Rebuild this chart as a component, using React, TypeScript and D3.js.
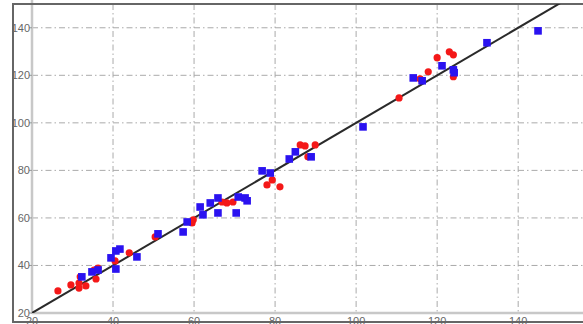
import React from 'react'
import * as d3 from 'd3'

// observed vs predicted, two groups
const redX = [26.4, 29.6, 31.9, 31.6, 31.6, 33.3, 35.3, 35.8, 36.3, 40.5, 44.0, 50.4, 59.5, 59.8, 66.9, 68.1, 69.6, 78.0, 79.3, 81.2, 86.2, 87.4, 88.1, 89.9, 110.6, 115.8, 117.8, 120.0, 123.0, 124.0, 124.0]
const redY = [29.3, 31.8, 35.2, 30.5, 32.6, 31.4, 38.1, 34.3, 38.9, 41.9, 45.3, 52.0, 57.9, 59.2, 66.7, 66.3, 66.7, 73.9, 76.0, 73.1, 90.7, 90.3, 85.7, 90.7, 110.5, 118.5, 121.5, 127.4, 129.9, 128.6, 119.4]
const blueX = [32.3, 34.8, 36.3, 39.5, 40.7, 41.7, 40.7, 45.9, 51.1, 57.3, 58.3, 61.5, 62.2, 64.0, 65.9, 65.9, 70.4, 70.9, 72.6, 73.1, 76.8, 78.8, 83.5, 85.0, 88.9, 101.7, 114.1, 116.3, 121.2, 124.0, 124.2, 132.3, 144.9]
const blueY = [35.2, 37.3, 38.1, 43.2, 46.1, 46.9, 38.5, 43.6, 53.3, 54.1, 58.3, 64.6, 61.3, 66.3, 68.4, 62.1, 62.1, 68.8, 68.4, 67.2, 79.8, 78.9, 84.8, 87.8, 85.7, 98.3, 118.9, 117.7, 124.0, 122.3, 121.1, 133.7, 138.7]
const ticks = [20, 40, 60, 80, 100, 120, 140]

const W = 583
const H = 324

export default function App() {
    const x = d3.scaleLinear().domain([20, 156]).range([32, 583])
    const y = d3.scaleLinear().domain([20, 150]).range([313, 4])
    const [x0, x1] = x.range()
    const [y0, y1] = y.range()
    const diag = d3.line<number>().x((d) => x(d)).y((d) => y(d))([20, 160])
    const font = { fontFamily: 'Liberation Sans, Arial, sans-serif', fontSize: 11, fill: '#666' }

    return (
        <svg width={W} height={H} style={{ position: 'fixed', left: 0, top: 0, background: '#fff' }}>
            <defs>
                <clipPath id="plot">
                    <rect x={x0} y={y1} width={x1 - x0} height={y0 - y1} />
                </clipPath>
            </defs>
            <rect x={0} y={0} width={W} height={H} fill="#fff" />
            {/* grid */}
            {ticks.map((t) => (
                <g key={'g' + t} stroke="#aaa" strokeWidth={1} strokeDasharray="6,3,1.5,3">
                    <line x1={x0} x2={x1} y1={y(t)} y2={y(t)} />
                    <line x1={x(t)} x2={x(t)} y1={y1} y2={y0} />
                </g>
            ))}
            {/* spines */}
            <line x1={x0} x2={x0} y1={0} y2={y0 + 1} stroke="#c8c8c8" strokeWidth={2.5} />
            <line x1={x0} x2={x1} y1={y0} y2={y0} stroke="#c8c8c8" strokeWidth={2.5} />
            {/* outer frame */}
            <rect x={13} y={4} width={W} height={318} fill="none" stroke="#666" strokeWidth={2} />
            {/* tick labels */}
            {ticks.map((t) => (
                <g key={'t' + t}>
                    <line x1={x0 - 3} x2={x0} y1={y(t)} y2={y(t)} stroke="#999" />
                    <text x={x0 - 2} y={y(t)} textAnchor="end" dominantBaseline="central" {...font}>{t}</text>
                    <text x={x(t)} y={317} textAnchor="middle" dominantBaseline="hanging" {...font}>{t}</text>
                </g>
            ))}
            <g clipPath="url(#plot)">
                <path d={diag || ''} stroke="#2a2a2a" strokeWidth={2} fill="none" />
                {redX.map((v, i) => (
                    <circle key={'r' + i} cx={x(v)} cy={y(redY[i])} r={3.6} fill="#f41818" />
                ))}
                {blueX.map((v, i) => (
                    <rect key={'b' + i} x={x(v) - 3.8} y={y(blueY[i]) - 3.8} width={7.6} height={7.6} fill="#2a12f0" />
                ))}
            </g>
        </svg>
    )
}
